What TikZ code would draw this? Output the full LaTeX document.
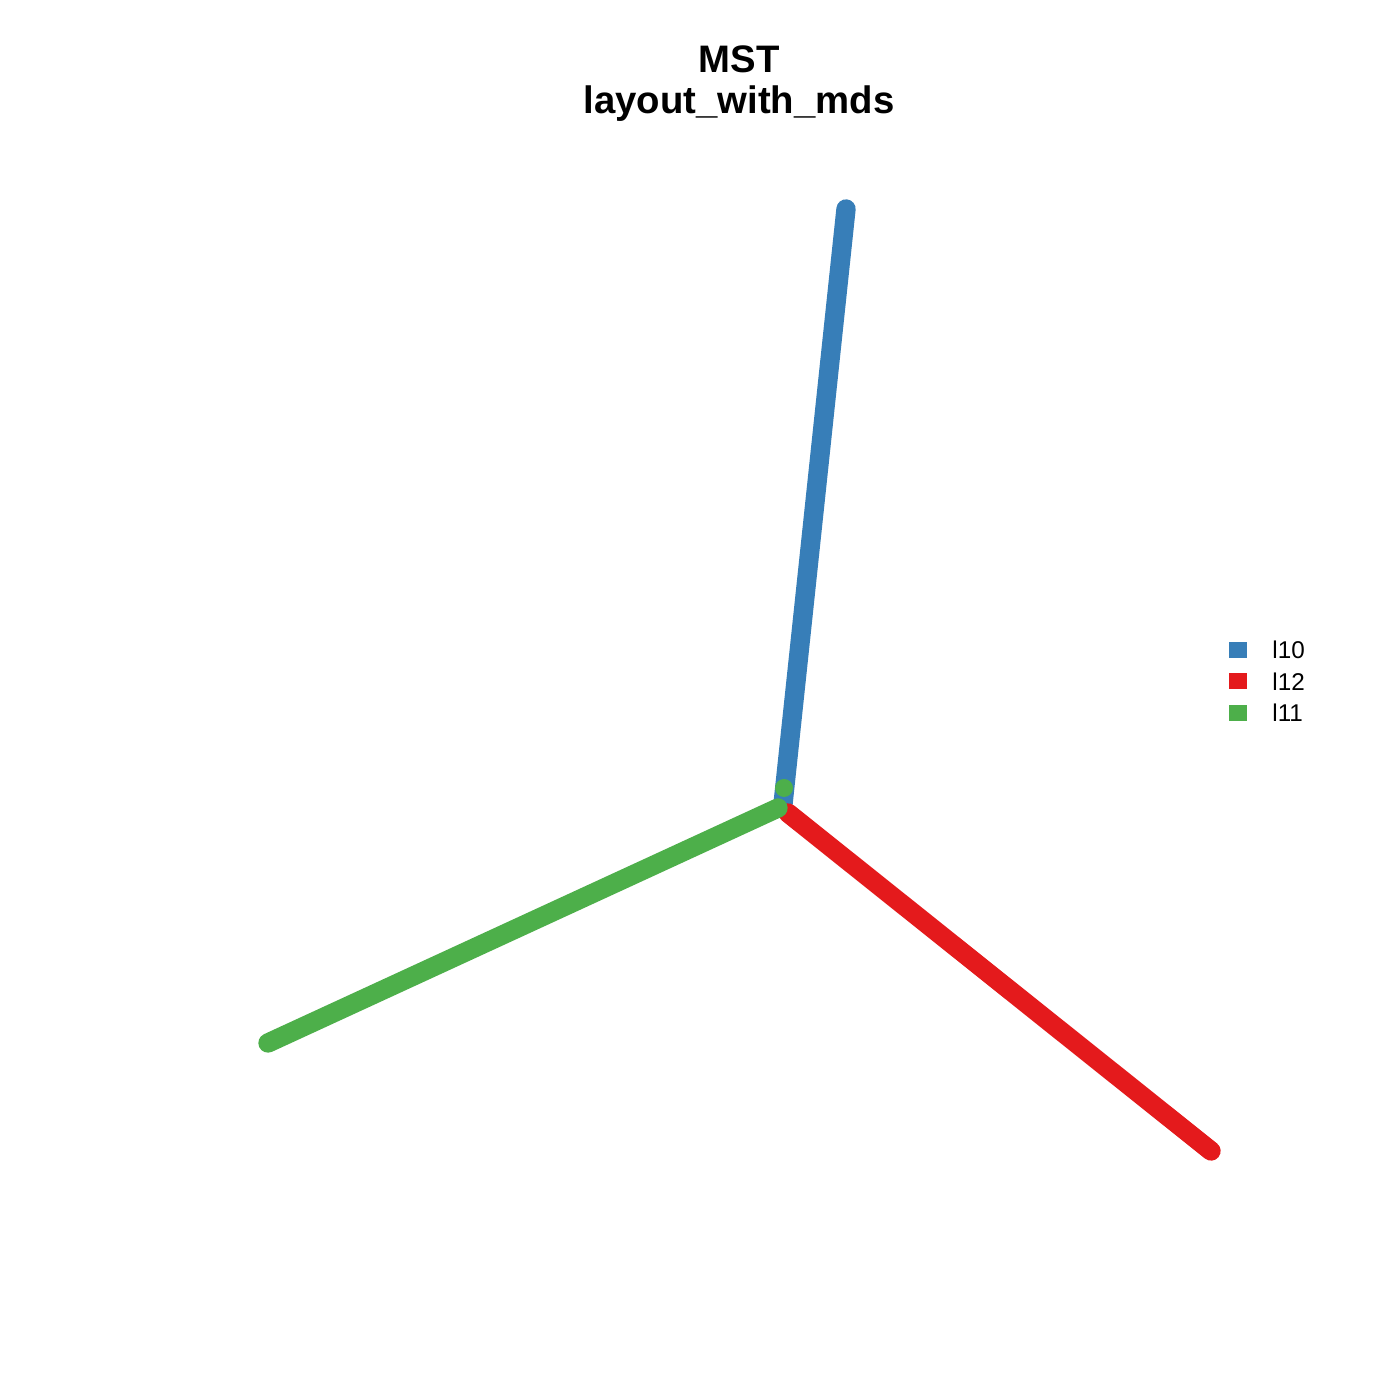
\documentclass[tikz,border=0pt]{standalone}
\usepackage{fontspec}
\setmainfont{Liberation Sans}
\usetikzlibrary{positioning}
\definecolor{SetBlue}{HTML}{377EB8}
\definecolor{SetRed}{HTML}{E41A1C}
\definecolor{SetGreen}{HTML}{4DAF4A}
\tikzset{
  % Tree branch: dense round dots drawn as a thick line
  branch/.style={line width=5.5pt, line cap=round, color=#1},
  % Single vertex dot
  vtx/.style={circle, fill=#1, minimum size=0.18cm, inner sep=0pt},
  % Legend key square
  key/.style={rectangle, fill=#1, minimum width=0.18cm, minimum height=0.16cm, inner sep=0pt},
  % Legend label
  keylbl/.style={font=\fontsize{6.9}{8}\selectfont, inner sep=0pt},
  % Title line
  ttl/.style={font=\bfseries\fontsize{10.9}{13}\selectfont, inner sep=0pt, anchor=base}
}
\begin{document}
\begin{tikzpicture}

  \useasboundingbox[fill=white] (0,0) rectangle (14,14);

  % Title
  \node[ttl] (title)    at (7.39,13.27) {MST};
  \node[ttl] (subtitle) at (7.39,12.86) {layout\_with\_mds};

  % Branch end points and the junction
  \coordinate (top)   at (8.46,11.91);
  \coordinate (hub)   at (7.83,5.96);
  \coordinate (gnear) at (7.78,5.92);
  \coordinate (gfar)  at (2.68,3.57);
  \coordinate (rnear) at (7.88,5.87);
  \coordinate (rfar)  at (12.11,2.49);

  \draw[branch=SetBlue]  (top)   -- (hub);
  \draw[branch=SetRed]   (rnear) -- (rfar);
  \draw[branch=SetGreen] (gnear) -- (gfar);
  \node[vtx=SetGreen] (gdot) at (7.84,6.12) {};

  % Legend
  \node[key=SetBlue]  (k10) at (12.38,7.50) {};
  \node[key=SetRed,   below=0.14cm of k10] (k12) {};
  \node[key=SetGreen, below=0.14cm of k12] (k11) {};
  \node[keylbl, right=0.24cm of k10] (l10) {l10};
  \node[keylbl, right=0.24cm of k12] (l12) {l12};
  \node[keylbl, right=0.24cm of k11] (l11) {l11};

\end{tikzpicture}
\end{document}
